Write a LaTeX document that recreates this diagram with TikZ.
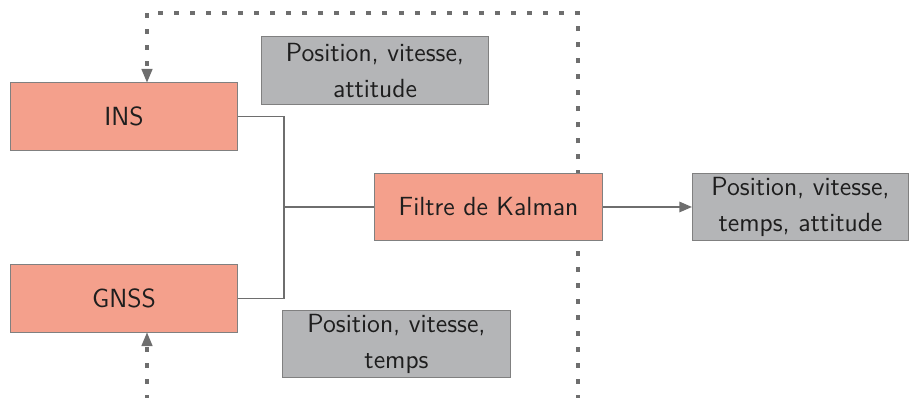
\documentclass[tikz,border=0pt]{standalone}
\usetikzlibrary{arrows.meta,backgrounds}
\definecolor{salmon}{HTML}{F4A08C}
\definecolor{boxgray}{HTML}{B4B5B7}
\definecolor{edgegray}{HTML}{808080}
\definecolor{linegray}{HTML}{6E6E6E}
\definecolor{txt}{HTML}{1E1E1E}
\tikzset{
  base/.style={draw=edgegray, line width=0.5pt, text=txt, align=center,
    font=\sffamily\fontsize{12.6}{17}\selectfont, inner sep=0pt, minimum height=32.2pt},
  redbox/.style={base, fill=salmon, minimum width=109.4pt},
  graybox/.style={base, fill=boxgray, minimum width=109.4pt},
  link/.style={draw=linegray, line width=0.7pt},
  arr/.style={link, -{Triangle[length=6pt,width=5pt]}},
  dotline/.style={draw=linegray, line width=1.5pt, dash pattern=on 2.4pt off 5.3pt},
  dotarr/.style={dotline, -{Triangle[length=6.5pt,width=5.5pt,line width=0pt]}},
}
\begin{document}
\begin{tikzpicture}[x=0.48pt,y=-0.48pt]
\useasboundingbox (0,0) rectangle (909,398);
\node[redbox] (ins) at (124,116.5) {INS};
\node[redbox] (gnss) at (124,298.5) {GNSS};
\node[redbox] (kal) at (488.5,207) {Filtre de Kalman};
\node[graybox, minimum width=103.7pt] (out) at (800.5,207) {Position, vitesse,\\temps, attitude};
\node[graybox] (l1) at (375,70.5) {Position, vitesse,\\attitude};
\node[graybox] (l2) at (396.5,344) {Position, vitesse,\\temps};
\coordinate (j) at (284,207);
\draw[link] (ins.east) -| (j);
\draw[link] (gnss.east) -| (j);
\draw[link] (j) -- (kal.west);
\draw[arr] (kal.east) -- (out.west);
\coordinate (d1) at (578,400);
\coordinate (d2) at (578,13);
\coordinate (d3) at (147,13);
\coordinate (g1) at (147,400);
\begin{scope}[on background layer]
\draw[dotarr] (d1) -- (d2) -- (d3) -- (d3 |- ins.north);
\end{scope}
\draw[dotarr] (g1) -- (g1 |- gnss.south);
\end{tikzpicture}
\end{document}
